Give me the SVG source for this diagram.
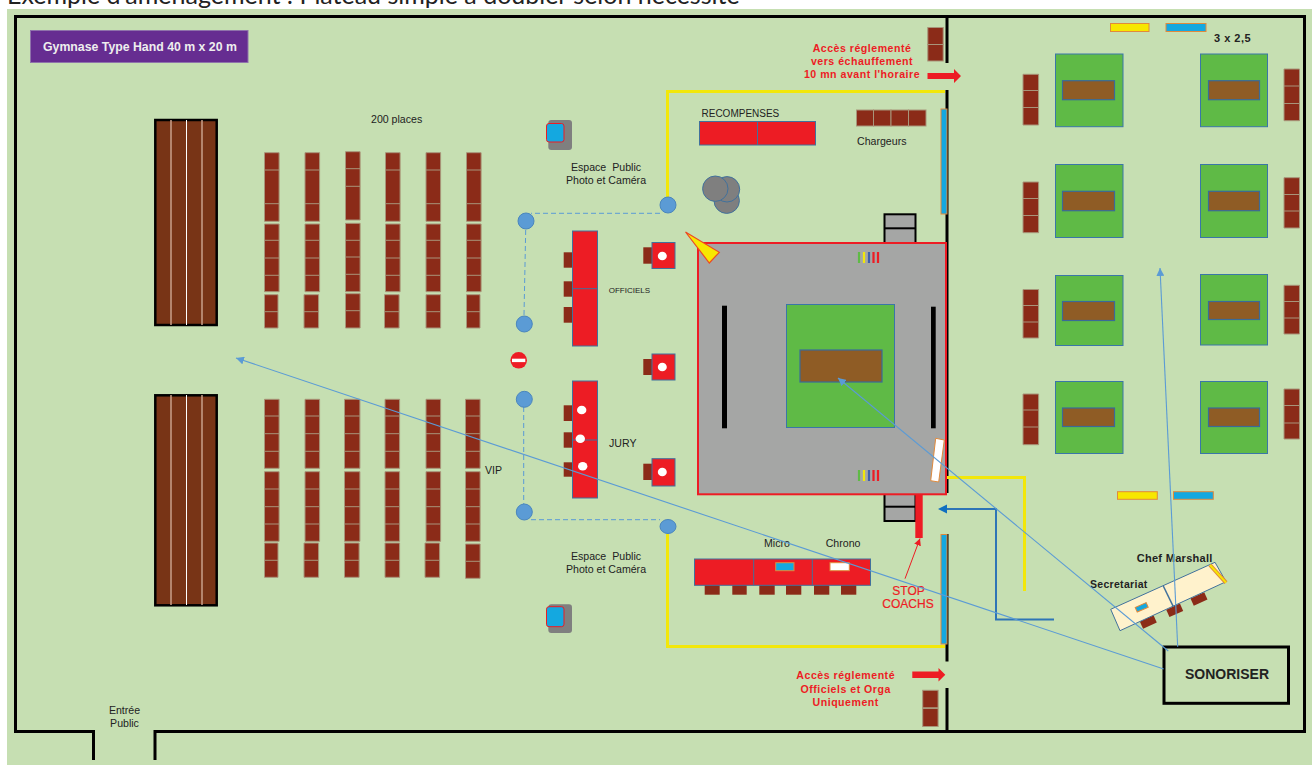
<svg xmlns="http://www.w3.org/2000/svg" width="1312" height="765" viewBox="0 0 1312 765">
<style>
text{font-family:"Liberation Sans",Arial,sans-serif;fill:#222;font-size:10.6px}
.b{font-weight:bold}
.c{text-anchor:middle}
.acc{font-weight:bold;fill:#ed1c24;font-size:10.6px;letter-spacing:.5px;text-anchor:middle}
.esp{word-spacing:3px}
.wall{fill:none;stroke:#000;stroke-width:3}
.yl{fill:none;stroke:#f2e70a;stroke-width:3}
.s{fill:#8b2b18;stroke:#a8957a;stroke-width:1}
.s2{fill:#8b2b18}
.rd{fill:#ed1c24;stroke:#41719c;stroke-width:1}
.gr{fill:#5fba46;stroke:#3a76a8;stroke-width:1}
.br{fill:#8f5c25;stroke:#3a6a98;stroke-width:1.2}
.dot{fill:#fff}
.bl{fill:#14a8e0;stroke:#e08a3c;stroke-width:1}
.ye{fill:#f7e700;stroke:#e08a3c;stroke-width:1}
.wh{fill:#fff;stroke:#e08a3c;stroke-width:1}
.pt{fill:#5b9bd5;stroke:#4a86bd;stroke-width:1}
.dash{fill:none;stroke:#5b9bd5;stroke-width:1;stroke-dasharray:5 3}
.lnk{fill:none;stroke:#5b9bd5;stroke-width:1.1}
.ga{fill:#a5a6a5;stroke:#000;stroke-width:2}
.bn{fill:#783416;stroke:#000;stroke-width:2.5}
.tan{stroke:#c9a08a;stroke-width:1.5}
.wl{stroke:#fff;stroke-width:1}
.cam{fill:#7f7f7f}
.cb{fill:#14a8e0;stroke:#ed1c24;stroke-width:1}
.ci{fill:#7f7f7f;stroke:#41719c;stroke-width:1}
.stp{fill:#ed1c24;font-size:12px;stroke:#ed1c24;stroke-width:.2}
</style>
<defs>
<marker id="mb" markerUnits="userSpaceOnUse" markerWidth="9" markerHeight="8" refX="8" refY="4" orient="auto"><path d="M0 0L8 4L0 8Z" fill="#5b9bd5"/></marker>
<marker id="mr" markerUnits="userSpaceOnUse" markerWidth="8" markerHeight="7" refX="7" refY="3.5" orient="auto"><path d="M0 0L7 3.5L0 7Z" fill="#ed1c24"/></marker>
</defs>
<rect x="7" y="9" width="1305" height="756" fill="#c6dfb2"/>
<text id="header" x="7" y="4" style="font-family:Lato,sans-serif;font-size:25px;fill:#222">Exemple d'aménagement : Plateau simple à doubler selon nécessité</text>

<g id="walls">
<path class="wall" d="M93.5 760V731.5H15.5V16.5H1304.5V731.5H155V760"/>
<path class="wall" d="M947 16.5V63M947 90V493M947 534V661.5M947 688V731.5"/>
</g>

<g id="title"><rect x="30.5" y="30.5" width="217.5" height="32" fill="#662d91" stroke="#8f73ab"/>
<text x="43" y="51" class="b" style="font-size:12.3px;fill:#eee">Gymnase Type Hand 40 m x 20 m</text></g>

<g id="bleacher-top"><rect class="bn" x="155.3" y="120" width="61.4" height="205"/><path class="tan" d="M171 120V325M202 120V325"/><path class="wl" d="M186.5 120V325"/></g>
<g id="bleacher-bottom"><rect class="bn" x="155.3" y="395.3" width="61.4" height="210"/><path class="tan" d="M171 395V605M202 395V605"/><path class="wl" d="M186.5 395V605"/></g>

<g id="seats-top">
<path class="s" d="M264.5 152.7h14.6V221.3h-14.6ZM264.5 170h14.6M264.5 203.7h14.6M264.5 224h14.6V291.7h-14.6ZM264.5 240.3h14.6M264.5 258h14.6M264.5 275.3h14.6M264.5 294.7h13.5V328h-13.5ZM264.5 311.7h13.5"/>
<path class="s" d="M305 152.7h14.6V221.3H305ZM305 170h14.6M305 203.7h14.6M305 224h14.6V291.7H305ZM305 240.3h14.6M305 258h14.6M305 275.3h14.6M304 294.7h14.6V328H304ZM304 311.7h14.6"/>
<path class="s" d="M345.5 151.7h14.6V220h-14.6ZM345.5 168.7h14.6M345.5 186.3h14.6M345.5 223.3h14.6V291.7h-14.6ZM345.5 240.3h14.6M345.5 257h14.6M345.5 274.3h14.6M345.5 293.7h14.6V328h-14.6ZM345.5 310.7h14.6"/>
<path class="s" d="M385.5 152.7h14.6V221.3h-14.6ZM385.5 170h14.6M385.5 203.7h14.6M385.5 224h14.6V291.7h-14.6ZM385.5 240.3h14.6M385.5 258h14.6M385.5 275.3h14.6M384.5 294.7h14.6V328h-14.6ZM384.5 311.7h14.6"/>
<path class="s" d="M426 152.7h14.6V221.3H426ZM426 170h14.6M426 203.7h14.6M426 224h14.6V291.7H426ZM426 240.3h14.6M426 258h14.6M426 275.3h14.6M426 294.7h14.6V328H426ZM426 311.7h14.6"/>
<path class="s" d="M466.5 152.7h14.6V221.3h-14.6ZM466.5 170h14.6M466.5 203.7h14.6M466.5 224h14.6V291.7h-14.6ZM466.5 240.3h14.6M466.5 258h14.6M466.5 275.3h14.6M466.5 294.7h13.5V328h-13.5ZM466.5 311.7h13.5"/>
</g>
<g id="seats-bottom">
<path class="s" d="M264.5 399.3h14.6V468.3h-14.6ZM264.5 416h14.6M264.5 433.7h14.6M264.5 451.3h14.6M264.5 471.7h14.6V541.3h-14.6ZM264.5 489h14.6M264.5 506.7h14.6M264.5 524h14.6M264.5 543h13.5V577.3h-13.5ZM264.5 560.3h13.5"/>
<path class="s" d="M305 399.3h14.6V468.3H305ZM305 416h14.6M305 433.7h14.6M305 451.3h14.6M305 471.7h14.6V541.3H305ZM305 489h14.6M305 506.7h14.6M305 524h14.6M304 543h14.6V577.3H304ZM304 560.3h14.6"/>
<path class="s" d="M344.5 399.3h15.4V468.3h-15.4ZM344.5 416h15.4M344.5 433.7h15.4M344.5 451.3h15.4M344.5 471.7h15.4V541.3h-15.4ZM344.5 489h15.4M344.5 506.7h15.4M344.5 524h15.4M344.5 543h14.6V577.3h-14.6ZM344.5 560.3h14.6"/>
<path class="s" d="M385 399.3h14.6V468.3H385ZM385 416h14.6M385 433.7h14.6M385 451.3h14.6M385 471.7h14.6V541.3H385ZM385 489h14.6M385 506.7h14.6M385 524h14.6M385 543h14.6V577.3H385ZM385 560.3h14.6"/>
<path class="s" d="M426 399.3h14.6V468.3H426ZM426 416h14.6M426 433.7h14.6M426 451.3h14.6M426 471.7h14.6V541.3H426ZM426 489h14.6M426 506.7h14.6M426 524h14.6M425 543h14.6V577.3H425ZM425 560.3h14.6"/>
<path class="s" d="M465.5 399.3h14.6V468.3h-14.6ZM465.5 416h14.6M465.5 433.7h14.6M465.5 451.3h14.6M465.5 471.7h14.6V541.3h-14.6ZM465.5 489h14.6M465.5 506.7h14.6M465.5 524h14.6M465.5 544h14.6V578.3h-14.6ZM465.5 561.3h14.6"/>
</g>

<g id="labels-left">
<text x="371" y="122.5">200 places</text>
<text x="485" y="473.5">VIP</text>
<text x="124.5" y="714" class="c">Entrée</text><text x="124.5" y="727.3" class="c">Public</text>
</g>

<g id="yellow-lines">
<path class="yl" d="M667.5 197V91.5H945"/>
<path class="yl" d="M667.5 534V646.5H945"/>
<path class="yl" d="M947 477.5H1024.5V591"/>
</g>

<g id="barrier">
<path class="dash" d="M660 213.3H531M525.7 230L524 315M523.7 407V504M531 519.7H660"/>
<circle class="pt" cx="668" cy="205" r="8"/><circle class="pt" cx="526" cy="221" r="8"/><circle class="pt" cx="524.3" cy="324" r="8"/><circle class="pt" cx="524.3" cy="399.3" r="8"/><circle class="pt" cx="524.3" cy="512" r="8"/><ellipse class="pt" cx="668" cy="526.5" rx="8" ry="7"/>
</g>
<g id="no-entry"><circle cx="518.7" cy="360.3" r="8.3" fill="#ed1c24"/><rect x="512" y="358.7" width="13.3" height="3.4" fill="#fff"/></g>

<g id="camera-top"><rect class="cam" x="548.3" y="120" width="23.7" height="30" rx="3"/><rect class="cb" x="546.5" y="123.5" width="17.5" height="18.5" rx="2.5"/></g>
<g id="camera-bottom"><rect class="cam" x="548.3" y="604.3" width="23.7" height="28.7" rx="3"/><rect class="cb" x="546.5" y="606.7" width="17.5" height="20" rx="2.5"/></g>
<g id="espace-top"><text x="606" y="170.7" class="c esp">Espace Public</text><text x="606" y="184" class="c">Photo et Caméra</text></g>
<g id="espace-bottom"><text x="606" y="560" class="c esp">Espace Public</text><text x="606" y="573.3" class="c">Photo et Caméra</text></g>

<g id="officiels">
<rect class="s2" x="563.7" y="252.3" width="9" height="15.4"/><rect class="s2" x="563.7" y="281.3" width="9" height="15.4"/><rect class="s2" x="563.7" y="307" width="9" height="15.7"/>
<rect class="rd" x="572.5" y="231" width="25" height="115"/><path class="rd" d="M572.5 288.7h25"/>
<text x="608.7" y="293.3" style="font-size:8px">OFFICIELS</text>
</g>
<g id="jury">
<rect class="s2" x="563.7" y="405.3" width="9" height="15.7"/><rect class="s2" x="563.7" y="432.3" width="9" height="15.4"/><rect class="s2" x="563.7" y="462.3" width="9" height="14.4"/>
<rect class="rd" x="572.5" y="381" width="25" height="117"/><path class="rd" d="M572.5 440h25"/>
<ellipse class="dot" cx="581.7" cy="410" rx="4.7" ry="4.3"/><ellipse class="dot" cx="580.3" cy="438.7" rx="4.7" ry="4.3"/><ellipse class="dot" cx="582.7" cy="466.3" rx="4.7" ry="4.3"/>
<text x="609" y="446.7">JURY</text>
</g>
<g id="post-1"><rect class="s2" x="643.3" y="247.3" width="9" height="16.4"/><rect class="rd" x="652" y="242.5" width="23" height="26"/><ellipse class="dot" cx="662.3" cy="256" rx="4.5" ry="4.3"/></g>
<g id="post-2"><rect class="s2" x="643.3" y="359" width="9" height="16"/><rect class="rd" x="652" y="354" width="23" height="26"/><ellipse class="dot" cx="662.3" cy="367" rx="4.5" ry="4.3"/></g>
<g id="post-3"><rect class="s2" x="643.3" y="463.7" width="9" height="16.3"/><rect class="rd" x="652" y="458.7" width="23" height="27.3"/><ellipse class="dot" cx="662.3" cy="472" rx="4.5" ry="4.3"/></g>

<g id="recompenses"><text x="701.5" y="116.5" style="font-size:10px">RECOMPENSES</text><rect class="rd" x="699.5" y="121.5" width="116" height="23.5"/><path class="rd" d="M757.5 121.5V145"/></g>
<g id="chargeurs">
<rect class="s" x="856.5" y="110" width="17" height="16"/><rect class="s" x="873.5" y="110" width="17.5" height="16"/><rect class="s" x="891" y="110" width="17.5" height="16"/><rect class="s" x="908.5" y="110" width="17.5" height="16"/>
<text x="857" y="145">Chargeurs</text></g>
<g id="balls"><circle class="ci" cx="726.7" cy="200.7" r="12.7"/><circle class="ci" cx="727" cy="189.3" r="12.7"/><circle class="ci" cx="715.3" cy="188.7" r="12.7"/></g>

<g id="stack-top"><rect class="ga" x="884.5" y="214.3" width="31" height="29"/><path class="ga" d="M884.5 228.3h31"/></g>
<g id="stack-bottom"><rect class="ga" x="884.5" y="494" width="31" height="27"/><path class="ga" d="M884.5 506.7h31"/></g>
<g id="court">
<rect x="698" y="243" width="248" height="251.3" fill="#a5a6a5" stroke="#ed1c24" stroke-width="2"/>
<rect x="722" y="305.7" width="5" height="122.6" fill="#000"/><rect x="931" y="306.7" width="4.7" height="121.6" fill="#000"/>
<rect class="gr" x="786.5" y="304.5" width="108" height="123"/><rect class="br" x="800" y="350" width="82" height="32"/>
<path d="M685.5 232L719.3 252.3L709.3 263Z" fill="#f7e700" stroke="#ed4a24" stroke-width="1.2"/>
<g stroke-width="2.2" fill="none"><path stroke="#5fba46" d="M859 252V263M859 470V481"/><path stroke="#f2e70a" d="M864 252V263M864 470V481"/><path stroke="#3f5fa8" d="M869 252V263M869 470V481"/><path stroke="#ed1c24" d="M873.5 252V263M878 252V263M873.5 470V481M878 470V481"/></g>
<path class="wh" d="M935.7 438.3L944.3 440L938.7 482L930.7 480.7Z"/>
</g>
<g id="stop"><rect x="915.3" y="494" width="7.4" height="44" fill="#ed1c24"/>
<text x="908.5" y="595" class="c stp">STOP</text><text x="908" y="608.3" class="c stp">COACHS</text></g>

<g id="panel-top"><rect class="bl" x="941" y="109" width="6" height="105"/></g>
<g id="panel-bottom"><rect class="bl" x="941" y="534.5" width="6" height="109.5"/></g>

<g id="scorers">
<rect class="s2" x="704.7" y="585" width="15" height="9.7"/><rect class="s2" x="732.3" y="585" width="14.4" height="9.7"/><rect class="s2" x="759.3" y="585" width="15.4" height="9.7"/><rect class="s2" x="786" y="585" width="15.3" height="9.7"/><rect class="s2" x="814" y="585" width="15.3" height="9.7"/><rect class="s2" x="841" y="585" width="15.3" height="9.7"/>
<rect class="rd" x="694.5" y="559" width="176" height="26.3"/><path class="rd" d="M753.7 559V585.3M812.3 559V585.3"/>
<rect class="bl" x="775.7" y="562.7" width="18.3" height="8"/><rect class="wh" x="830" y="562.7" width="19.3" height="8"/>
<text x="764" y="547.3">Micro</text><text x="825.7" y="547.3">Chrono</text>
</g>

<g id="access-top">
<text x="862" y="51.5" class="acc">Accès réglementé</text><text x="862" y="65" class="acc">vers échauffement</text><text x="862" y="78.3" class="acc">10 mn avant l'horaire</text>
<path d="M927.5 73H954V69L961 76L954 83V79H927.5Z" fill="#ed1c24"/>
<rect class="s" x="927.8" y="27.5" width="15.4" height="17"/><rect class="s" x="927.8" y="44.5" width="15.4" height="16.5"/>
</g>
<g id="access-bottom">
<text x="845.7" y="679.3" class="acc">Accès réglementé</text><text x="845.7" y="692.7" class="acc">Officiels et Orga</text><text x="845.7" y="706" class="acc">Uniquement</text>
<path d="M912.3 671.5H938.5V668L945.3 674.7L938.5 681.5V678H912.3Z" fill="#ed1c24"/>
<rect class="s" x="922.7" y="690.3" width="15.4" height="17.5"/><rect class="s" x="922.7" y="708.5" width="15.4" height="18"/>
</g>

<g id="warmup">
<rect class="ye" x="1110.5" y="23.5" width="38.5" height="8"/><rect class="bl" x="1166" y="23.5" width="40" height="8"/>
<text x="1214" y="42" class="b" style="font-size:11px;letter-spacing:.5px">3 x 2,5</text>
<rect class="gr" x="1055.5" y="54" width="67.5" height="72.7"/><rect class="br" x="1062.5" y="80.7" width="52" height="19"/>
<rect class="gr" x="1200.5" y="54" width="67" height="72.7"/><rect class="br" x="1208.5" y="80.7" width="51" height="19"/>
<rect class="gr" x="1055.5" y="164.5" width="67.5" height="73"/><rect class="br" x="1062.5" y="191.3" width="52" height="19.4"/>
<rect class="gr" x="1200.5" y="164.5" width="67" height="73"/><rect class="br" x="1208.5" y="191.3" width="51" height="19.4"/>
<rect class="gr" x="1055.5" y="275.5" width="67.5" height="70"/><rect class="br" x="1062.5" y="301.5" width="52" height="19"/>
<rect class="gr" x="1200.5" y="274.5" width="67" height="70.5"/><rect class="br" x="1208.5" y="301.5" width="51" height="18"/>
<rect class="gr" x="1055.5" y="381.5" width="67.5" height="72"/><rect class="br" x="1062.5" y="408" width="52" height="18.5"/>
<rect class="gr" x="1200.5" y="381.5" width="67" height="72"/><rect class="br" x="1208.5" y="408" width="51" height="18.5"/>
<path class="s" d="M1023 74.3h15.6V125H1023ZM1023 90.5h15.6M1023 107.5h15.6M1023 182h15.6V232.7H1023ZM1023 198.5h15.6M1023 215.5h15.6M1023 289.5h15.6V338H1023ZM1023 305.5h15.6M1023 322h15.6M1023 394h15.6V444.7H1023ZM1023 410h15.6M1023 427h15.6"/>
<path class="s" d="M1284 69h15.5V120.7H1284ZM1284 86h15.5M1284 103.5h15.5M1284 177.7h15.5V228H1284ZM1284 194.5h15.5M1284 211h15.5M1284 285.3h15.5V334H1284ZM1284 301.5h15.5M1284 318h15.5M1284 389h15.5V439H1284ZM1284 405.5h15.5M1284 423h15.5"/>
<rect class="ye" x="1117.5" y="491.7" width="39.8" height="7.6"/><rect class="bl" x="1173.5" y="491.7" width="39.8" height="7.6"/>
</g>

<g id="sonoriser"><rect x="1164" y="647" width="124.5" height="56.3" fill="none" stroke="#000" stroke-width="3"/><text x="1227" y="679.3" class="b c" style="font-size:14px">SONORISER</text></g>

<g id="secretariat">
<g fill="#8b2b18">
<rect x="-7.5" y="-4" width="15" height="8" transform="translate(1148.3 622) rotate(-24)"/>
<rect x="-7.5" y="-4" width="15" height="8" transform="translate(1174.7 610.3) rotate(-24)"/>
<rect x="-7.5" y="-4" width="15" height="8" transform="translate(1199 599) rotate(-24)"/></g>
<path d="M1110.7 609.3L1215 562.3L1226 581.7L1120 630.7Z" fill="#fff2cc" stroke="#41719c" stroke-width="1"/>
<path d="M1163.3 586L1173.3 606.7" fill="none" stroke="#41719c" stroke-width="1.5"/>
<path d="M1210 565L1226 582.7" fill="none" stroke="#e08a3c" stroke-width="4"/><path d="M1210 565L1226 582.7" fill="none" stroke="#f7e700" stroke-width="2"/>
<rect class="bl" x="-6" y="-2.5" width="12" height="5" transform="translate(1141.7 607.3) rotate(-24)"/>
<text x="1136.7" y="561.7" class="b" style="font-size:11px;letter-spacing:.3px">Chef Marshall</text>
<text x="1090" y="588.3" class="b" style="font-size:10.5px;letter-spacing:.3px">Secretariat</text>
</g>

<g id="connectors">
<path d="M1054 619.5H996V509H946" fill="none" stroke="#2e75b6" stroke-width="2"/>
<path d="M938 509L947 504.5V513.5Z" fill="#0f6fc0"/>
<path d="M905 578.7L920 538.5" fill="none" stroke="#ed1c24" stroke-width="1" marker-end="url(#mr)"/>
<path class="lnk" d="M1163.7 669L236 358" marker-end="url(#mb)"/>
<path class="lnk" d="M1168.3 651L838 378" marker-end="url(#mb)"/>
<path class="lnk" d="M1177.7 646.7L1160 268" marker-end="url(#mb)"/>
</g>
</svg>
